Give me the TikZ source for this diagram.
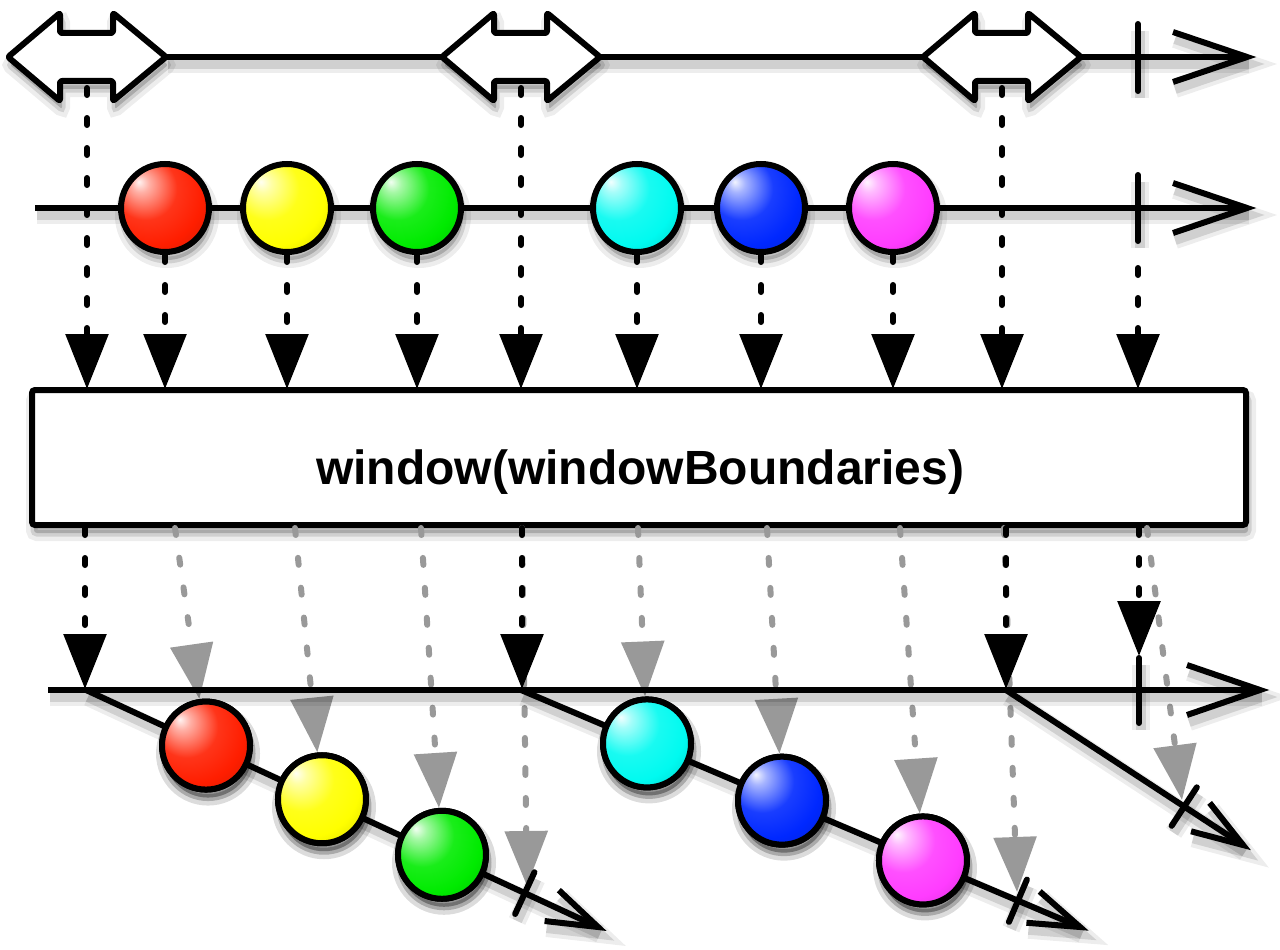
\documentclass[tikz,border=0pt]{standalone}
\usepackage{fontspec}
\setmainfont{Liberation Sans}
\usetikzlibrary{arrows.meta,calc}
\definecolor{cRed}{RGB}{255,30,0}
\definecolor{cYellow}{RGB}{255,255,0}
\definecolor{cGreen}{RGB}{0,235,0}
\definecolor{cCyan}{RGB}{0,250,240}
\definecolor{cBlue}{RGB}{0,40,255}
\definecolor{cMagenta}{RGB}{255,60,255}
\definecolor{cGray}{RGB}{153,153,153}
\colorlet{mcol}{red}
\pgfdeclareradialshading[mcol]{marbleshade}{\pgfpoint{-15bp}{15bp}}{%
  color(0bp)=(mcol!5!white);
  color(5bp)=(mcol!35!white);
  color(18bp)=(mcol!90!white);
  color(30bp)=(mcol);
  color(44bp)=(mcol!82!black);
  color(56bp)=(mcol!62!black);
  color(70bp)=(mcol!50!black)}
\tikzset{
  shl/.style={preaction={draw=black,draw opacity=0.07,line width=18pt,transform canvas={shift={(2pt,-7pt)}}},
              preaction={draw=black,draw opacity=0.12,line width=10pt,transform canvas={shift={(2pt,-7pt)}}}},
  shf/.style={preaction={fill=black,draw=black,line width=16pt,opacity=0.07,transform canvas={shift={(2pt,-8pt)}}},
              preaction={fill=black,draw=black,line width=7pt,opacity=0.12,transform canvas={shift={(2pt,-8pt)}}}},
  axisline/.style={line width=6pt,line join=miter,line cap=butt,shl},
  tickline/.style={line width=6pt,line cap=round,shl},
  blkarrow/.style={line width=6pt,line cap=round,dash pattern=on 7pt off 23pt,-{Triangle[length=55pt,width=42pt]}},
  grayarrow/.style={blkarrow,draw=cGray},
  marble/.style={circle,minimum size=88pt,inner sep=0pt,line width=6pt,draw=black,shf,
                 /utils/exec={\colorlet{mcol}{#1}},shading=marbleshade},
  dblarrow/.style={draw=black,fill=white,line width=6pt,line join=round,rounded corners=2pt,shf},
  opbox/.style={draw=black,fill=white,line width=6pt,rounded corners=3pt,minimum width=1214pt,minimum height=135pt,inner sep=0pt,shf},
}
\begin{document}
\begin{tikzpicture}[x=1pt,y=-1pt]
\useasboundingbox (0,0) rectangle (1280,950);

% ---------- row 1: window boundaries ----------
\coordinate (r1s) at (166,57);
\coordinate (r1e) at (1247,57);
\draw[axisline] (r1s) -- (r1e);
\draw[axisline] (1173,32) -- (r1e) -- (1173,82);
\draw[tickline] (1138,24) -- (1138,91);
\foreach \cx/\n in {87/1,521/2,1002/3}{
  \draw[dblarrow] (\cx-79,57) -- (\cx-27,13) -- (\cx-27,33) -- (\cx+26,33) -- (\cx+26,13)
     -- (\cx+79,57) -- (\cx+26,101) -- (\cx+26,81) -- (\cx-27,81) -- (\cx-27,101) -- cycle;
  \coordinate (b\n) at (\cx,88);
}

% ---------- row 2: source ----------
\coordinate (r2s) at (35,208);
\coordinate (r2e) at (1247,208);
\draw[axisline] (r2s) -- (r2e);
\draw[axisline] (1173,183) -- (r2e) -- (1173,233);
\draw[tickline] (1138,175) -- (1138,241);
\node[marble=cRed]     (m1) at (165,208) {};
\node[marble=cYellow]  (m2) at (287,208) {};
\node[marble=cGreen]   (m3) at (417,208) {};
\node[marble=cCyan]    (m4) at (637,208) {};
\node[marble=cBlue]    (m5) at (761,208) {};
\node[marble=cMagenta] (m6) at (893,208) {};
\coordinate (k2) at (1138,268);

% ---------- arrows into operator ----------
\foreach \x/\s [count=\i] in {87/b1,165/m1,287/m2,417/m3,521/b2,637/m4,761/m5,893/m6,1002/b3,1138/k2}{
  \coordinate (in\i) at (\x,389);
  \draw[blkarrow] (\s) -- (in\i);
}

% ---------- operator box ----------
\node[opbox] (op) at (639,457.5) {};
\node[anchor=base,font=\fontsize{48pt}{57pt}\selectfont\bfseries] (oplabel) at (640,484) {window(windowBoundaries)};

% ---------- output ----------
\coordinate (w1s) at (86,690);  \coordinate (w1e) at (598,927);
\coordinate (w2s) at (521,690); \coordinate (w2e) at (1080,927);
\coordinate (w3s) at (1006,690); \coordinate (w3e) at (1243,845);

\node[marble=cRed]     (o1) at ($(w1s)!0.2344!(w1e)$) {};
\node[marble=cYellow]  (o2) at ($(w1s)!0.4609!(w1e)$) {};
\node[marble=cGreen]   (o3) at ($(w1s)!0.6953!(w1e)$) {};
\node[marble=cCyan]    (o4) at ($(w2s)!0.2254!(w2e)$) {};
\node[marble=cBlue]    (o5) at ($(w2s)!0.4669!(w2e)$) {};
\node[marble=cMagenta] (o6) at ($(w2s)!0.7191!(w2e)$) {};

\coordinate (k1) at ($(w1s)!0.857!(w1e)$);
\coordinate (k2b) at ($(w2s)!0.889!(w2e)$);
\coordinate (k3) at ($(w3s)!0.752!(w3e)$);

% gray arrows (items and completions of windows)
\foreach \x/\t [count=\i] in {175/o1,295/o2,421/o3,638/o4,767/o5,900/o6}{
  \coordinate (g\i) at (\x,528);
  \draw[grayarrow] (g\i) -- (\t);
}
\coordinate (gc1) at (522,528);  \coordinate (gt1) at (527,886);
\coordinate (gc2) at (1004,528); \coordinate (gt2) at (1017,892);
\coordinate (gc3) at (1147,528); \coordinate (gt3) at (1182,800);
\draw[grayarrow] (gc1) -- (gt1);
\draw[grayarrow] (gc2) -- (gt2);
\draw[grayarrow] (gc3) -- (gt3);

% black arrows (window openings and completion)
\coordinate (bo1) at (85,528);   \coordinate (bt1) at (85,689);
\coordinate (bo2) at (522,528);  \coordinate (bt2) at (522,689);
\coordinate (bo3) at (1006,528); \coordinate (bt3) at (1006,689);
\coordinate (bo4) at (1139,528); \coordinate (bt4) at (1139,656);
\foreach \i in {1,2,3,4}{ \draw[blkarrow] (bo\i) -- (bt\i); }

% outer timeline
\coordinate (r3s) at (48,690);
\coordinate (r3e) at (1260,690);
\draw[axisline] (r3s) -- (r3e);
\draw[axisline] (1187,665) -- (r3e) -- (1187,715);
\draw[tickline] (1139,658) -- (1139,723);

% window timelines
\foreach \s/\e/\k in {w1s/w1e/k1,w2s/w2e/k2b,w3s/w3e/k3}{
  \draw[axisline] (\s) -- (\e);
  \draw[axisline] ($($(\e)!51pt!(\s)$)!17pt!90:(\e)$) -- (\e) -- ($($(\e)!51pt!(\s)$)!17pt!-90:(\e)$);
  \draw[tickline] ($(\k)!23pt!90:(\e)$) -- ($(\k)!23pt!-90:(\e)$);
}
% redraw output marbles on top of their window lines
\node[marble=cRed]     at (o1) {};
\node[marble=cYellow]  at (o2) {};
\node[marble=cGreen]   at (o3) {};
\node[marble=cCyan]    at (o4) {};
\node[marble=cBlue]    at (o5) {};
\node[marble=cMagenta] at (o6) {};
\end{tikzpicture}
\end{document}
